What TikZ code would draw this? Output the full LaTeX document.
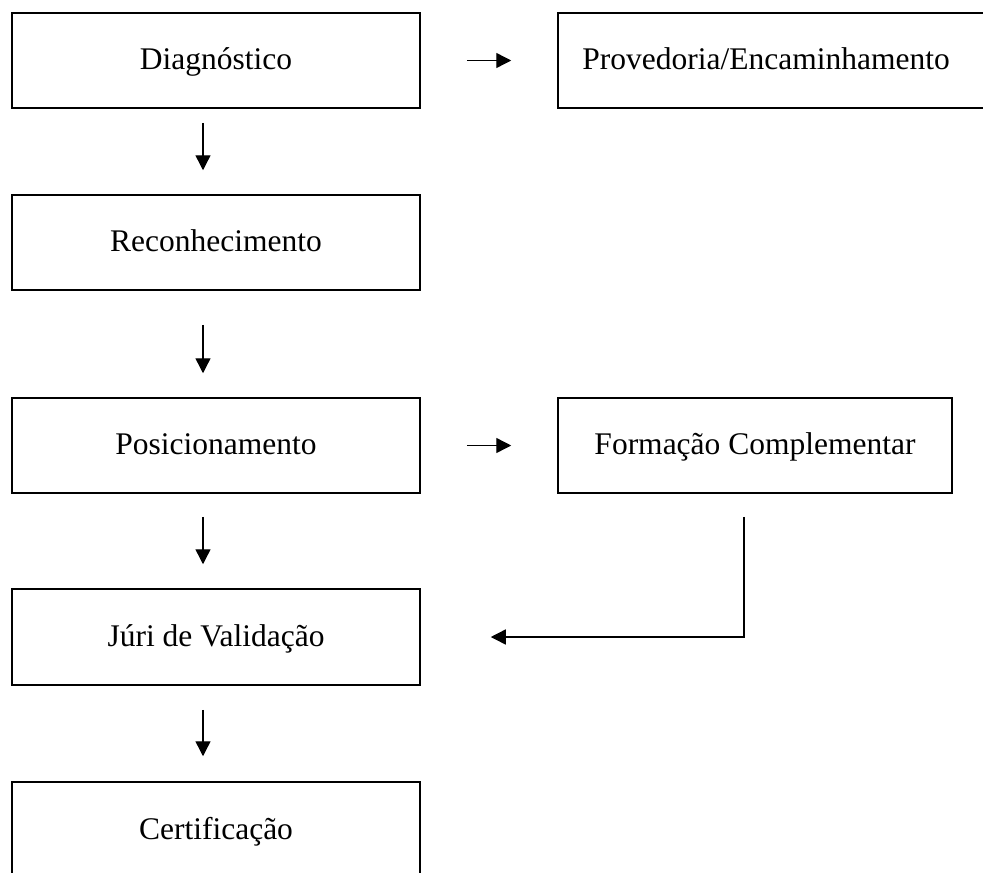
\documentclass[tikz,border=0pt]{standalone}
\usepackage{fontspec}
\setmainfont{Liberation Serif}
\usetikzlibrary{arrows.meta}
\begin{document}
\begin{tikzpicture}[x=1pt,y=-1pt,
  stagebox/.style={draw=black, line width=1.5pt, rectangle, inner sep=0pt,
    minimum width=408pt, minimum height=95pt,
    font=\fontsize{31.5pt}{36pt}\selectfont, text height=25pt, text depth=7pt},
  flow/.style={line width=1.4pt, -{Triangle[length=15pt,width=15pt]}}]
\useasboundingbox (0,0) rectangle (983,873);
\clip (0,0) rectangle (983,873);
\node[stagebox] (diag) at (216,60.5) {Diagnóstico};
\node[stagebox, minimum width=432pt] (prov) at (774,60.5) {\hspace*{-16pt}Provedoria/Encaminhamento};
\node[stagebox] (reco) at (216,242.5) {Reconhecimento};
\node[stagebox] (posi) at (216,445.5) {Posicionamento};
\node[stagebox, minimum width=394pt] (form) at (755,445.5) {Formação Complementar};
\node[stagebox, minimum height=96pt] (juri) at (216,637) {Júri de Validação};
\node[stagebox, minimum height=96pt] (cert) at (216,830) {Certificação};

\draw[flow, shorten <=46pt, shorten >=46pt] (diag.east) -- (prov.west);
\draw[flow, shorten <=46pt, shorten >=46pt] (posi.east) -- (form.west);
\draw[flow, shorten <=14pt, shorten >=24pt] ([xshift=-13pt]diag.south) -- ([xshift=-13pt]reco.north);
\draw[flow, shorten <=34pt, shorten >=24pt] ([xshift=-13pt]reco.south) -- ([xshift=-13pt]posi.north);
\draw[flow, shorten <=23pt, shorten >=24pt] ([xshift=-13pt]posi.south) -- ([xshift=-13pt]juri.north);
\draw[flow, shorten <=24pt, shorten >=25pt] ([xshift=-13pt]juri.south) -- ([xshift=-13pt]cert.north);
\draw[flow, shorten <=23pt, shorten >=70pt] ([xshift=-11pt]form.south) |- (juri.east);
\end{tikzpicture}
\end{document}
